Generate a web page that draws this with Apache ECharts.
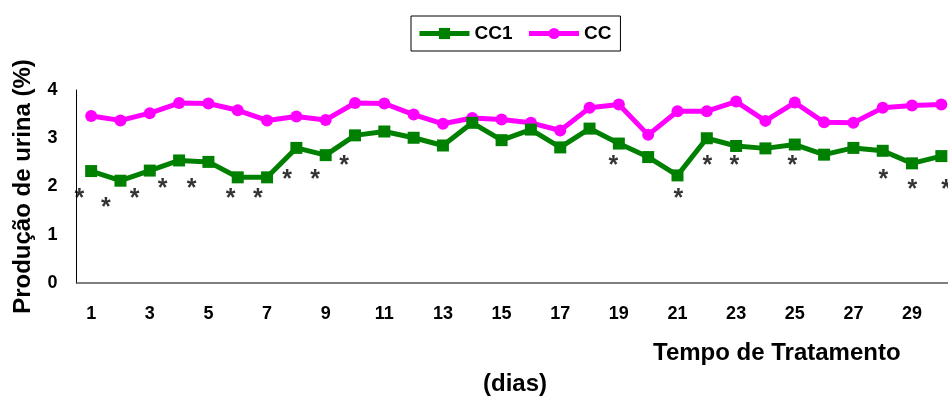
<!DOCTYPE html>
<html>
<head>
<meta charset="utf-8">
<script src="https://cdn.jsdelivr.net/npm/echarts@6/dist/echarts.min.js"></script>
<style>
  html, body { margin: 0; padding: 0; background: #fff; }
  #chart { width: 948px; height: 396px; }
</style>
</head>
<body>
<div id="chart"></div>
<script>
// Treatment days
const days = Array.from({ length: 30 }, (_, i) => String(i + 1));

// Urine production (%) per day
const cc1Values = [2.32, 2.12, 2.33, 2.54, 2.51, 2.19, 2.19, 2.80, 2.65, 3.06,
                   3.14, 3.01, 2.85, 3.32, 2.96, 3.18, 2.81, 3.20, 2.89, 2.61,
                   2.23, 3.00, 2.84, 2.79, 2.87, 2.66, 2.80, 2.74, 2.48, 2.63];
const ccValues  = [3.46, 3.37, 3.52, 3.73, 3.72, 3.58, 3.37, 3.45, 3.38, 3.73,
                   3.72, 3.49, 3.30, 3.42, 3.39, 3.32, 3.16, 3.63, 3.70, 3.07,
                   3.56, 3.56, 3.76, 3.36, 3.74, 3.33, 3.32, 3.63, 3.68, 3.70];

// Significance marks: [position along day axis, height on value axis]
const signifMarks = [
  [0.60, 1.87], [1.50, 1.68], [2.48, 1.87], [3.44, 2.06], [4.43, 2.06],
  [5.76, 1.87], [6.69, 1.87], [7.68, 2.25], [8.64, 2.25], [9.63, 2.54],
  [18.81, 2.54], [21.03, 1.87], [22.02, 2.54], [22.94, 2.54], [24.92, 2.54],
  [28.02, 2.25], [29.01, 2.05], [30.16, 2.05]
];

const FONT = 'Arial, "Liberation Sans", sans-serif';

const chart = echarts.init(document.getElementById('chart'), null, { renderer: 'canvas' });

chart.setOption({
  animation: false,
  backgroundColor: '#ffffff',
  textStyle: { fontFamily: FONT },
  legend: {
    left: 411,
    top: 16,
    padding: [8, 9, 8, 6],
    itemGap: 14,
    itemWidth: 50,
    itemHeight: 14,
    borderColor: '#000',
    borderWidth: 1,
    lineStyle: { width: 5 },
    textStyle: { fontFamily: FONT, fontWeight: 'bold', fontSize: 19, color: '#000' },
    data: ['CC1', 'CC']
  },
  // the day axis runs a little past the right edge of the canvas
  grid: {
    left: 76.5, right: -8, top: 90, bottom: 113,
    containLabel: false,
    outerBoundsMode: 'none'
  },
  xAxis: [
    {
      type: 'category',
      data: days,
      boundaryGap: true,
      axisLine: { lineStyle: { color: '#555', width: 1.5 } },
      axisTick: { show: false },
      axisLabel: {
        interval: 1,
        margin: 22,
        color: '#000',
        fontFamily: FONT,
        fontWeight: 'bold',
        fontSize: 18
      },
      splitLine: { show: false }
    },
    {
      type: 'value',
      min: 0.5,
      max: 30.5,
      show: false
    }
  ],
  yAxis: {
    type: 'value',
    min: 0,
    max: 4,
    interval: 1,
    name: 'Produção de urina (%)',
    nameLocation: 'middle',
    nameRotate: 90,
    nameGap: 41,
    nameTextStyle: { fontFamily: FONT, fontWeight: 'bold', fontSize: 24, color: '#000' },
    axisLine: { show: true, lineStyle: { color: '#000', width: 1 } },
    axisTick: { show: false },
    axisLabel: { margin: 19, color: '#000', fontFamily: FONT, fontWeight: 'bold', fontSize: 18 },
    splitLine: { show: false }
  },
  graphic: [
    {
      type: 'text',
      left: 653,
      top: 341,
      style: { text: 'Tempo de Tratamento', font: 'bold 24px ' + FONT, fill: '#000' }
    },
    {
      type: 'text',
      left: 483,
      top: 372,
      style: { text: '(dias)', font: 'bold 24px ' + FONT, fill: '#000' }
    }
  ],
  series: [
    {
      name: 'CC1',
      type: 'line',
      data: cc1Values,
      symbol: 'rect',
      symbolSize: 12,
      lineStyle: { color: '#008000', width: 5 },
      itemStyle: { color: '#008000' },
      z: 3
    },
    {
      name: 'CC',
      type: 'line',
      data: ccValues,
      symbol: 'circle',
      symbolSize: 12,
      lineStyle: { color: '#ff00ff', width: 5 },
      itemStyle: { color: '#ff00ff' },
      z: 2
    },
    {
      name: 'signif',
      type: 'scatter',
      xAxisIndex: 1,
      data: signifMarks,
      symbol: 'circle',
      symbolSize: 2,
      itemStyle: { color: 'rgba(0,0,0,0)' },
      silent: true,
      label: {
        show: true,
        position: 'inside',
        formatter: '*',
        color: '#000',
        fontFamily: FONT,
        fontWeight: 'bold',
        fontSize: 25,
        offset: [0, 6]
      },
      z: 4
    }
  ]
});
</script>
</body>
</html>
